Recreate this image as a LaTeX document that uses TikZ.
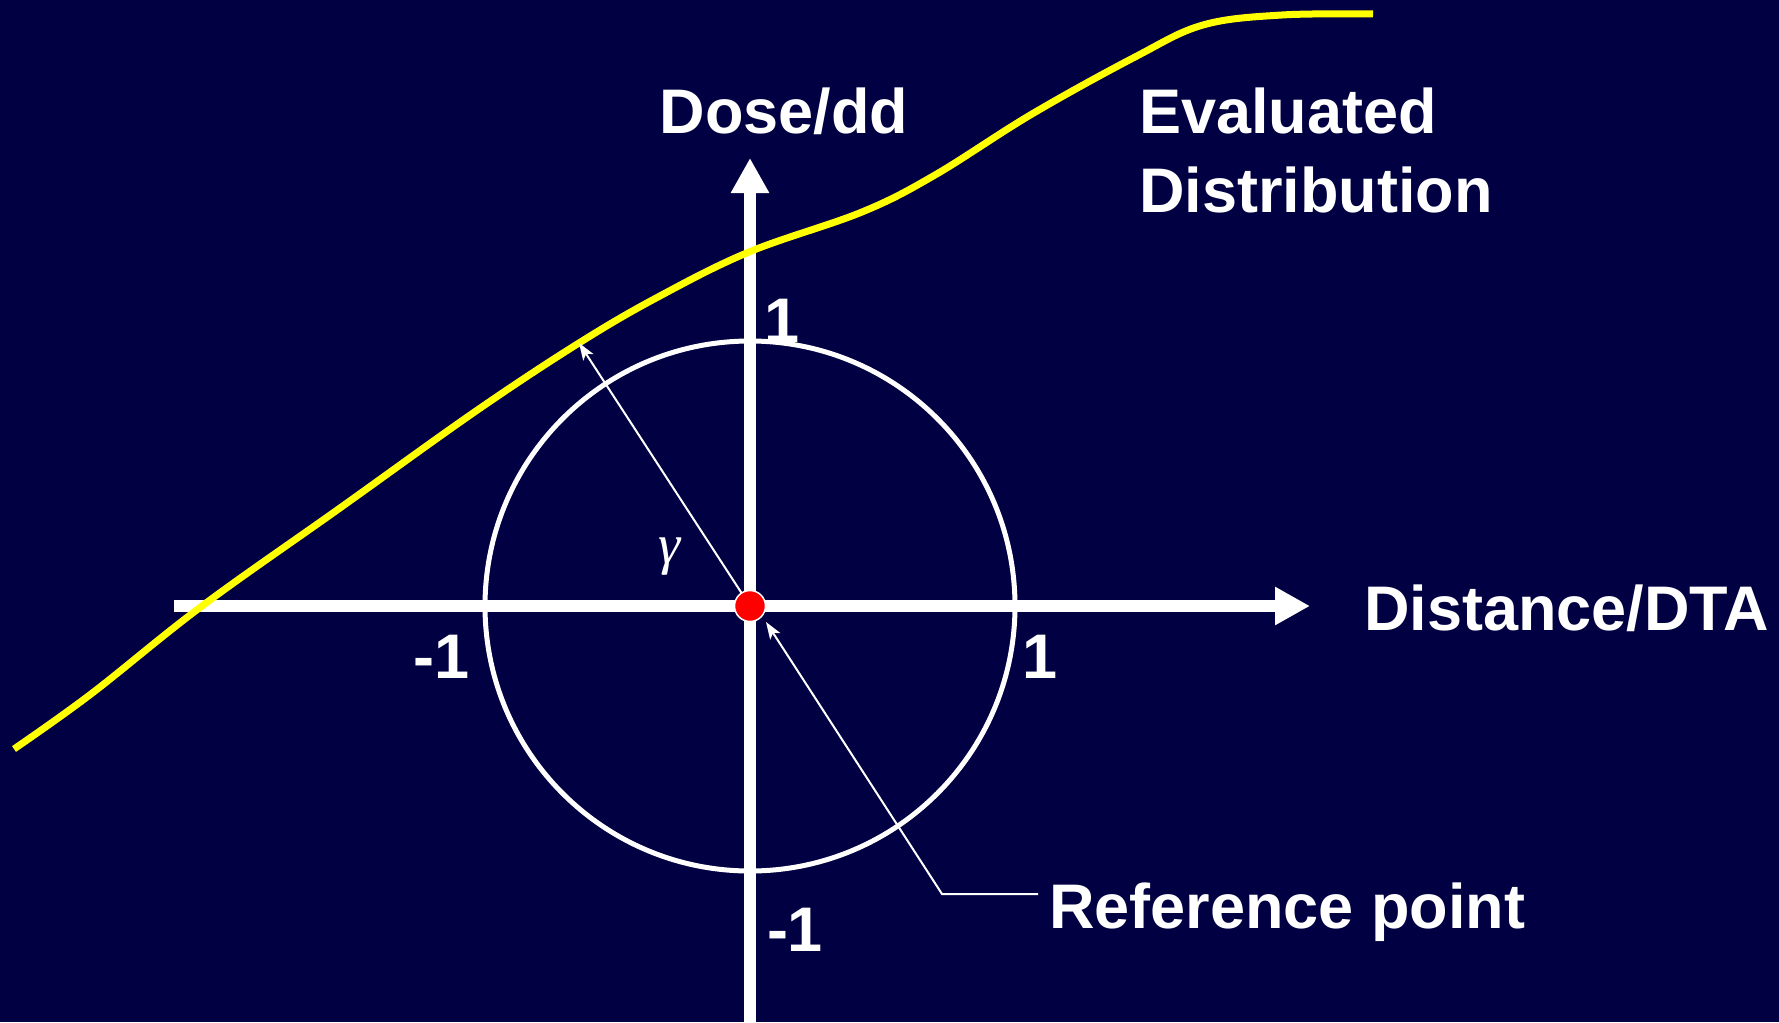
\documentclass[tikz,border=0pt]{standalone}
\usepackage{fontspec}
\setmainfont{Liberation Sans}
\newfontfamily\serifgr{Liberation Serif}
\usetikzlibrary{arrows.meta}
\definecolor{bgnavy}{RGB}{0,0,66}
\definecolor{curveyellow}{RGB}{255,255,0}
\begin{document}
\begin{tikzpicture}[x=1pt,y=-1pt,
  axis/.style={draw=white,line width=12pt,-{Triangle[length=35pt,width=36pt]}},
  ring/.style={draw=white,line width=5pt},
  thinarrow/.style={draw=white,line width=2pt,-{Stealth[length=17pt,width=12pt,inset=4pt]}},
  lbl/.style={text=white,font=\bfseries\fontsize{63}{70}\selectfont,inner sep=0pt},
  tick/.style={text=white,font=\bfseries\fontsize{63}{70}\selectfont,inner sep=0pt,anchor=base}]
\fill[bgnavy] (0,0) rectangle (1779,1022);
\useasboundingbox (0,0) rectangle (1779,1022);
% coordinates
\coordinate (O) at (750,606);
\coordinate (xstart) at (174,606);
\coordinate (xend) at (1310,606);
\coordinate (ystart) at (750,1030);
\coordinate (yend) at (750,158);
\coordinate (gtip) at (579,343);
\coordinate (refbend) at (942,894);
\coordinate (refend) at (1038,894);
\coordinate (reftip) at (766,622);
% circle
\draw[ring] (O) circle[radius=265];
% axes
\draw[axis] (ystart) -- (yend);
\draw[axis] (xstart) -- (xend);
% evaluated curve
\draw[curveyellow,line width=7pt,line cap=butt] plot[smooth,tension=0.6] coordinates {
 (14,749) (91,694) (202,606) (340,508) (476,411) (579,343) (658,297)
 (749,252) (862,212) (935,175) (1032,114) (1135,57) (1203,25) (1282,15) (1373,14)};
% gamma arrow
\draw[thinarrow] (O) -- (gtip);
% reference pointer
\draw[thinarrow] (refend) -- (refbend) -- (reftip);
% reference point
\node[circle,fill=red,draw=white,line width=1.5pt,minimum size=31pt,inner sep=0pt] (refpt) at (O) {};
% labels
\node[lbl,anchor=base] (dose) at (784,134) {Dose/dd};
\node[lbl,anchor=base west] (eval) at (1139,134) {Evaluated};
\node[lbl,anchor=base west] (distr) at (1139,212) {Distribution};
\node[lbl,anchor=base west] (dist) at (1364,630) {Distance/DTA};
\node[lbl,anchor=base west] (reflbl) at (1049,928) {Reference point};
\node[tick] (ytop) at (782,342) {1};
\node[tick] (xneg) at (442,678) {-1};
\node[tick] (xpos) at (1040,678) {1};
\node[tick] (yneg) at (795,951) {-1};
\node[text=white,inner sep=0pt,font=\serifgr\itshape\fontsize{56}{60}\selectfont] (gam) at (670,557) {γ};
\end{tikzpicture}
\end{document}
